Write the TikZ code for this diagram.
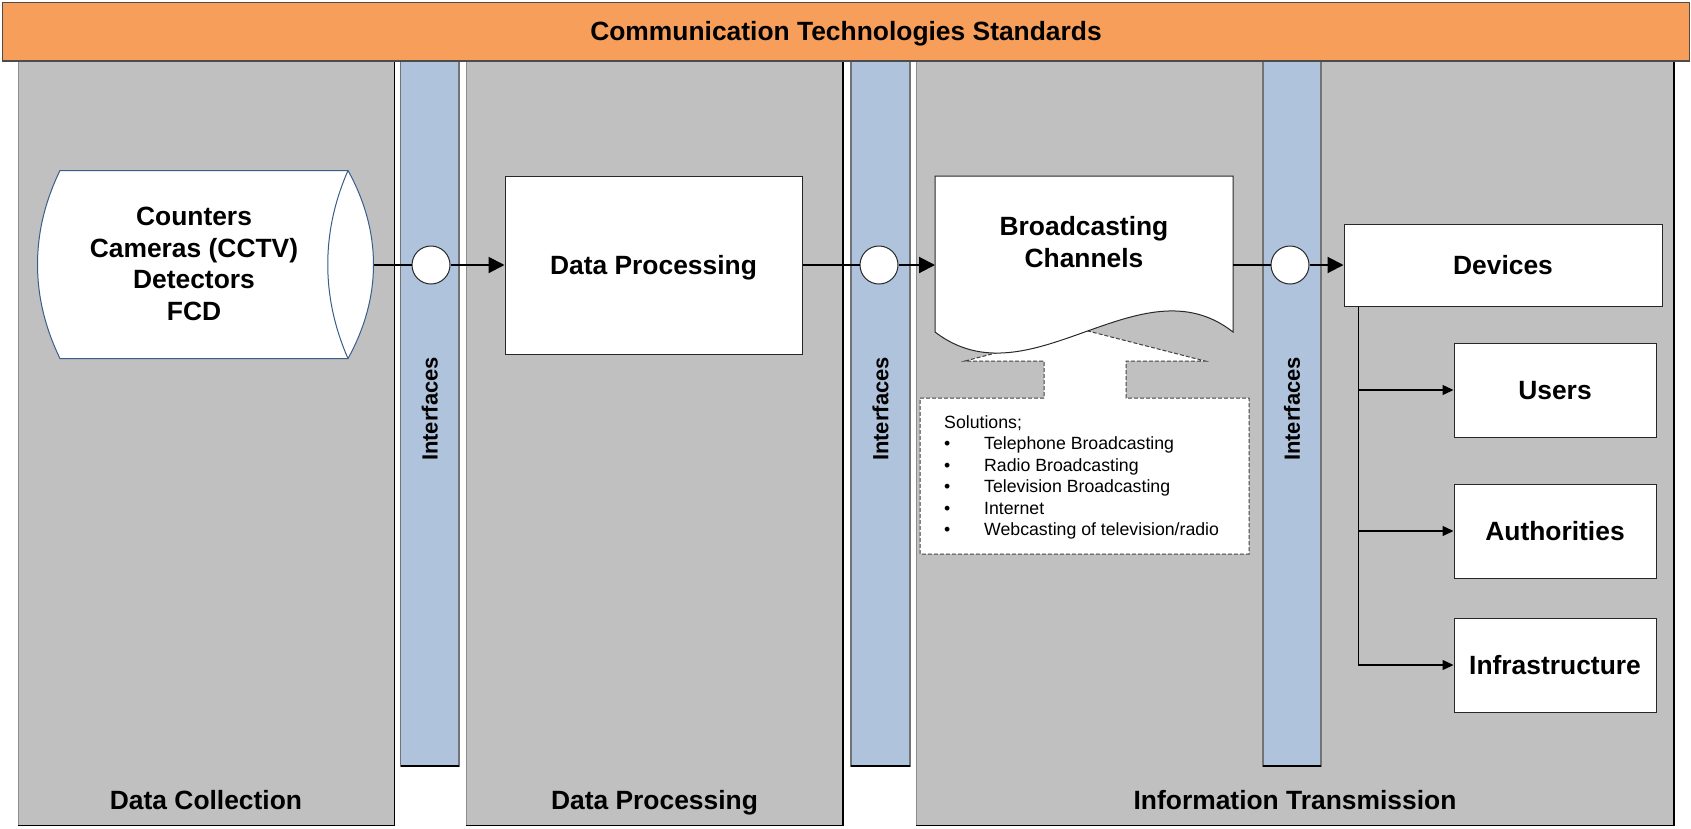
\documentclass[tikz,border=0pt]{standalone}
\usepackage{fontspec}
\setmainfont{Liberation Sans}
\usetikzlibrary{arrows.meta}

\definecolor{bandorange}{RGB}{246,158,90}
\definecolor{lanegray}{RGB}{192,192,192}
\definecolor{stripblue}{RGB}{176,195,220}
\definecolor{storeedge}{RGB}{56,93,138}
\definecolor{edgegray}{RGB}{40,40,40}

\begin{document}
\begin{tikzpicture}[x=1pt,y=-1pt,
  bigtext/.style={font=\fontsize{26.4}{31.7}\selectfont\bfseries},
  captext/.style={text height=18.9pt,text depth=0pt},
  sidetext/.style={font=\fontsize{22}{26}\selectfont\bfseries,text height=15.8pt,text depth=0pt,inner sep=0pt},
  listtext/.style={font=\fontsize{17.7}{21.5}\selectfont,inner sep=0pt,anchor=base west},
  lane/.style={fill=lanegray,draw=black!45,line width=1pt},
  laneshade/.style={draw=black,line width=1.3pt},
  strip/.style={fill=stripblue,draw=black!55,line width=1.3pt},
  box/.style={draw=edgegray,fill=white,line width=1pt,inner sep=0pt,bigtext,captext},
  port/.style={circle,draw=edgegray,fill=white,line width=1pt,minimum size=38pt,inner sep=0pt},
  link/.style={line width=2pt},
  flow/.style={line width=2pt,-{Triangle[length=16pt,width=16pt]}},
  branch/.style={line width=1.3pt,-{Triangle[length=11pt,width=10pt]}},
  callout/.style={fill=white,draw=black!75,line width=1pt,dash pattern=on 4pt off 2pt}
]
\useasboundingbox (0,0) rectangle (1691,828);
\fill[white] (0,0) rectangle (1691,828);

% swim lanes
\draw[lane] (18,50) rectangle (394.5,825.5);
\draw[laneshade] (394.5,61) -- (394.5,825.5) -- (18,825.5);
\draw[lane] (466,50) rectangle (843,825.5);
\draw[laneshade] (843,61) -- (843,825.5) -- (466,825.5);
\draw[lane] (916,50) rectangle (1674,825.5);
\draw[laneshade] (1674,61) -- (1674,825.5) -- (916,825.5);

% interface strips
\draw[strip] (400.7,50) rectangle (459,766);
\draw[strip] (851,50) rectangle (910,766);
\draw[strip] (1263,50) rectangle (1321,766);
\draw[black,line width=1.3pt] (400.7,766) -- (459,766) (851,766) -- (910,766) (1263,766) -- (1321,766);

\node[sidetext,rotate=90] (if1) at (429.8,409) {Interfaces};
\node[sidetext,rotate=90] (if2) at (880.5,409) {Interfaces};
\node[sidetext,rotate=90] (if3) at (1292,409) {Interfaces};

% header band
\draw[fill=bandorange,draw=black!70,line width=1pt] (2,2) rectangle (1689.5,60.7);
\draw[black!70,line width=1.6pt] (1689.5,2.5) -- (1689.5,60.7) -- (2,60.7);
\node[bigtext,captext,inner sep=0pt] (title) at (846,31) {Communication Technologies Standards};

% lane captions
\node[bigtext,captext,inner sep=0pt] (cap1) at (206,800) {Data Collection};
\node[bigtext,captext,inner sep=0pt] (cap2) at (654.5,800) {Data Processing};
\node[bigtext,captext,inner sep=0pt] (cap3) at (1295,800) {Information Transmission};

% data sources (stored data shape)
\draw[fill=white,draw=storeedge,line width=1pt]
  (60,170.5) -- (348,170.5) .. controls (382,232) and (382,297) .. (348,358.5)
  -- (60,358.5) .. controls (30,297) and (30,232) .. (60,170.5) -- cycle;
\draw[storeedge,line width=1pt] (348,170.5) .. controls (321,232) and (321,297) .. (348,358.5);
\node[bigtext,align=center,inner sep=0pt] (store) at (194,264)
  {Counters\\Cameras (CCTV)\\Detectors\\FCD};
\coordinate (store-e) at (374,265);

% processing
\node[box,minimum width=297pt,minimum height=178pt] (dp) at (653.5,265) {Data Processing};

% solutions callout with upward arrow
\draw[callout] (920,398) -- (1044,398) -- (1044,361) -- (965,361) -- (1084,330)
  -- (1205,361) -- (1126,361) -- (1126,398) -- (1249,398) -- (1249,554) -- (920,554) -- cycle;
\node[listtext] (sol0) at (944,428) {Solutions;};
\node[listtext] (sol1) at (944,449.5) {\makebox[40pt][l]{\textbullet}Telephone Broadcasting};
\node[listtext] (sol2) at (944,471) {\makebox[40pt][l]{\textbullet}Radio Broadcasting};
\node[listtext] (sol3) at (944,492.5) {\makebox[40pt][l]{\textbullet}Television Broadcasting};
\node[listtext] (sol4) at (944,514) {\makebox[40pt][l]{\textbullet}Internet};
\node[listtext] (sol5) at (944,535.5) {\makebox[40pt][l]{\textbullet}Webcasting of television/radio};

% broadcasting channels (document shape)
\draw[fill=white,draw=edgegray,line width=1pt]
  (935,176) -- (1233,176) -- (1233,332)
  .. controls (1140,259) and (1030,405) .. (935,332) -- cycle;
\node[bigtext,align=center,inner sep=0pt] (bcast) at (1084,242) {Broadcasting\\Channels};
\coordinate (bcast-w) at (935,265);
\coordinate (bcast-e) at (1233,265);

% output devices and receivers
\node[box,minimum width=318pt,minimum height=82pt] (dev) at (1503,265) {Devices};
\node[box,minimum width=202pt,minimum height=94pt] (users) at (1555,390) {Users};
\node[box,minimum width=202pt,minimum height=94pt] (auth) at (1555,531) {Authorities};
\node[box,minimum width=202pt,minimum height=94pt] (infra) at (1555,665) {Infrastructure};

% interface ports
\node[port] (c1) at (431,265) {};
\node[port] (c2) at (879,265) {};
\node[port] (c3) at (1290,265) {};

% main flow
\draw[link] (store-e) -- (c1);
\draw[flow] (c1) -- (dp.west);
\draw[link] (dp.east) -- (c2);
\draw[flow] (c2) -- (bcast-w);
\draw[link] (bcast-e) -- (c3);
\draw[flow] (c3) -- (dev.west);

% distribution to receivers
\draw[branch] ([xshift=15pt]dev.south west) |- (users.west);
\draw[branch] ([xshift=15pt]dev.south west) |- (auth.west);
\draw[branch] ([xshift=15pt]dev.south west) |- (infra.west);
\end{tikzpicture}
\end{document}
